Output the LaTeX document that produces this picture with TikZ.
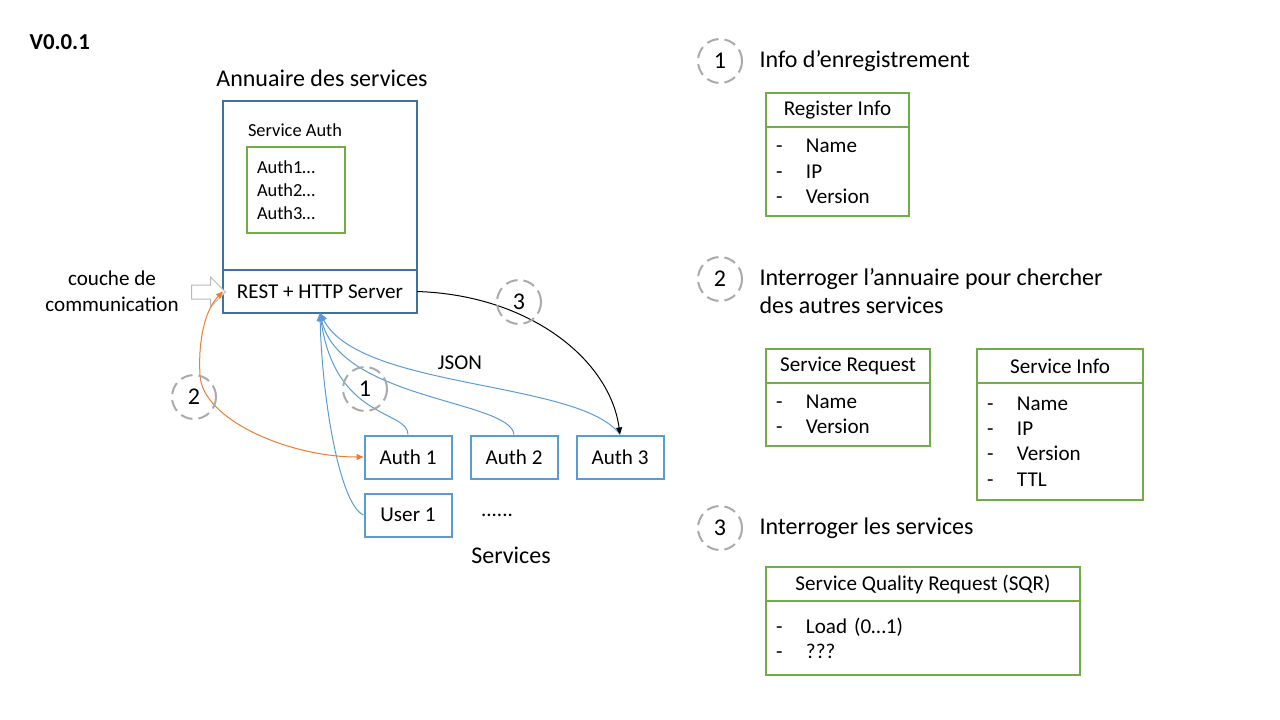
\documentclass[tikz,border=0pt]{standalone}
\usepackage{fontspec}
\setmainfont{Carlito}
\usetikzlibrary{positioning, arrows.meta, shapes.arrows}

\definecolor{boxblue}{RGB}{65,113,156}
\definecolor{svcblue}{RGB}{91,155,213}
\definecolor{okgreen}{RGB}{112,173,71}
\definecolor{orangeline}{RGB}{237,125,49}
\definecolor{dashgray}{RGB}{170,170,170}

\newcommand{\bigtxt}{\fontsize{24}{28}\selectfont}
\newcommand{\midtxt}{\fontsize{21.1}{25.3}\selectfont}
\newcommand{\smalltxt}{\fontsize{18.4}{23}\selectfont}
\newcommand{\itm}[1]{\makebox[30pt][l]{-}#1}

\begin{document}
\begin{tikzpicture}[x=1pt, y=-1pt,
    svc/.style={rectangle, draw=svcblue, line width=2, minimum width=87,
    minimum height=43, font=\midtxt},
    hdr/.style={rectangle, draw=okgreen, line width=2, outer sep=0pt,
    minimum height=34, font=\midtxt},
    lst/.style={rectangle, draw=okgreen, line width=2, outer sep=0pt, align=left,
    inner xsep=10, font=\midtxt},
    num/.style={circle, draw=dashgray, dash pattern=on 12pt off 6pt,
    line width=2, minimum size=44, inner sep=0, font=\bigtxt},
    heading/.style={anchor=west, align=left, font=\bigtxt},
    bluearrow/.style={-{Triangle[length=8,width=7]}, svcblue, line width=1},
    arrow/.style={-{Triangle[length=7,width=6]}, line width=1}
]
\useasboundingbox (0,0) rectangle (1280,720);

% version
\node[anchor=west, font=\fontsize{22.8}{26}\selectfont\bfseries] (version) at (26,42) {V0.0.1};

% annuaire
\node[rectangle, draw=boxblue, line width=2, outer sep=0pt, minimum width=194,
    minimum height=169, anchor=north west] (dir) at (223,101) {};
\node[rectangle, draw=boxblue, line width=2, outer sep=0pt, minimum width=194,
    minimum height=43, below=0pt of dir, font=\midtxt] (rest) {REST + HTTP Server};
\node[font=\bigtxt] (dirtitle) at (322,78) {Annuaire des services};
\node[font=\smalltxt] (svcauth) at (295,130) {Service Auth};
\node[rectangle, draw=okgreen, line width=2, minimum width=98, minimum height=86,
    anchor=north west, align=left, text width=78, inner xsep=10,
    font=\smalltxt] (authlist) at (246,146) {Auth1…\\Auth2…\\Auth3…};

% couche de communication
\node[align=center, font=\fontsize{21.1}{26}\selectfont] (couche) at (112,291)
    {couche de\\communication};
\node[single arrow, draw=gray!55, fill=white, line width=1pt, minimum height=34pt,
    inner xsep=0pt, inner ysep=6.5pt, single arrow head extend=8pt] (inarrow)
    at (205,292) {};

% services
\node[svc] (auth1) at (408,457) {Auth 1};
\node[svc, right=17pt of auth1] (auth2) {Auth 2};
\node[svc, right=17pt of auth2] (auth3) {Auth 3};
\node[svc, below=13pt of auth1] (user1) {User 1};
\node[font=\midtxt] (dots) at (497,515) {......};
\node[font=\bigtxt] (services) at (511,555) {Services};

% connectors
\draw[bluearrow] (user1.west) .. controls (340,505) and (322,400) .. (rest.south);
\draw[bluearrow] (auth1.north) .. controls (408,410) and (335,420) .. (rest.south);
\draw[bluearrow] (auth2.north) .. controls (510,400) and (340,400) .. (rest.south);
\draw[bluearrow] (auth3.north) .. controls (580,380) and (360,390) .. (rest.south);
\node[font=\midtxt] (json) at (460,363) {JSON};
\draw[{Triangle[length=7,width=6]}-{Triangle[length=7,width=6]}, orangeline, line width=1]
    (rest.west) .. controls (205,310) and (198,340) .. (200,375)
    .. controls (202,420) and (290,457) .. (auth1.west);
\draw[arrow] (rest.east) .. controls (530,295) and (610,360) .. (auth3.north);

\node[num] (n1) at (365,389) {1};
\node[num] (n2) at (194,397) {2};
\node[num] (n3) at (519,302) {3};

% right side: 1
\node[num] (r1) at (720,61) {1};
\node[heading] (h1) at (756,61) {Info d’enregistrement};
\node[hdr, minimum width=143, anchor=north west] (reg) at (766,93) {Register Info};
\node[lst, text width=123, minimum height=89, below=0pt of reg] (reglist)
    {\itm{Name}\\\itm{IP}\\\itm{Version}};

% right side: 2
\node[num] (r2) at (720,279) {2};
\node[heading] (h2) at (756,291) {Interroger l’annuaire pour chercher\\des autres services};
\node[hdr, minimum width=164, anchor=north west] (req) at (766,349) {Service Request};
\node[lst, text width=144, minimum height=63, below=0pt of req] (reqlist)
    {\itm{Name}\\\itm{Version}};
\node[hdr, minimum width=166, anchor=north west] (info) at (977,349) {Service Info};
\node[lst, text width=146, minimum height=117, below=0pt of info] (infolist)
    {\itm{Name}\\\itm{IP}\\\itm{Version}\\\itm{TTL}};

% right side: 3
\node[num] (r3) at (720,528) {3};
\node[heading] (h3) at (756,528) {Interroger les services};
\node[hdr, minimum width=314, anchor=north west] (sqr) at (766,567)
    {Service Quality Request (SQR)};
\node[lst, text width=294, minimum height=74, below=0pt of sqr] (sqrlist)
    {\itm{Load (0…1)}\\\itm{???}};

\end{tikzpicture}
\end{document}
